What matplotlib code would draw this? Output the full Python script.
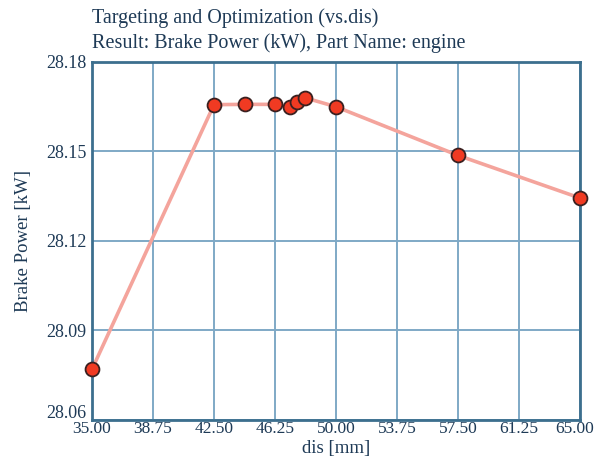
import matplotlib
matplotlib.use("Agg")
import matplotlib.pyplot as plt
from matplotlib.ticker import FixedLocator, FormatStrFormatter
from matplotlib.transforms import ScaledTranslation

# design sweep results: dis [mm] vs. brake power [kW]
dis_mm = [35.0, 42.5, 44.4, 46.25, 47.2, 47.6, 48.1, 50.0, 57.5, 65.0]
brake_power_kw = [28.077, 28.1657, 28.1658, 28.1658, 28.1648, 28.1665,
                  28.1680, 28.1650, 28.1487, 28.1344]

x_ticks = [35.00, 38.75, 42.50, 46.25, 50.00, 53.75, 57.50, 61.25, 65.00]
y_ticks = [28.06, 28.09, 28.12, 28.15, 28.18]

text_color = "#1e3a56"
grid_color = "#7fa9c6"
frame_color = "#3c6f8e"

plt.rcParams["font.family"] = ["Liberation Serif", "DejaVu Serif"]

fig = plt.figure(figsize=(5.98, 4.74), dpi=100)
ax = fig.add_axes([92 / 598, 54 / 474, 488 / 598, 358 / 474])

ax.plot(dis_mm, brake_power_kw, color="#f4a49c", linewidth=2.6, zorder=2)
ax.plot(dis_mm, brake_power_kw, linestyle="none", marker="o", markersize=10,
        markerfacecolor="#f03a22", markeredgecolor="#3a2020",
        markeredgewidth=1.3, zorder=3, clip_on=False)

ax.set_xlim(35, 65)
ax.set_ylim(28.06, 28.18)
ax.xaxis.set_major_locator(FixedLocator(x_ticks))
ax.yaxis.set_major_locator(FixedLocator(y_ticks))
ax.xaxis.set_major_formatter(FormatStrFormatter("%.2f"))
ax.yaxis.set_major_formatter(FormatStrFormatter("%.2f"))

ax.grid(True, color=grid_color, linewidth=1.4)
ax.set_axisbelow(True)
for side in ax.spines.values():
    side.set_color(frame_color)
    side.set_linewidth(2.0)

ax.tick_params(length=0, colors=text_color)
ax.tick_params(axis="x", pad=1, labelsize=12.5)
ax.tick_params(axis="y", pad=4, labelsize=13)

# lift the lowest y label so it clears the first x label,
# and pull the last x label in from the figure edge
fig.canvas.draw()
lowest = ax.get_yticklabels()[0]
lowest.set_transform(lowest.get_transform()
                     + ScaledTranslation(0, 8 / 100, fig.dpi_scale_trans))
last = ax.get_xticklabels()[-1]
last.set_transform(last.get_transform()
                   + ScaledTranslation(-5 / 100, 0, fig.dpi_scale_trans))

ax.set_xlabel("dis [mm]", fontsize=13.5, color=text_color, labelpad=2)
ax.set_ylabel("Brake Power [kW]", fontsize=13.5, color=text_color, labelpad=10)

fig.text(92 / 598, 1 - 18 / 474, "Targeting and Optimization (vs.dis)",
         fontsize=14.5, color=text_color, va="center", ha="left")
fig.text(92 / 598, 1 - 43 / 474, "Result: Brake Power (kW), Part Name: engine",
         fontsize=14.5, color=text_color, va="center", ha="left")

fig.savefig("out.png", dpi=100)
